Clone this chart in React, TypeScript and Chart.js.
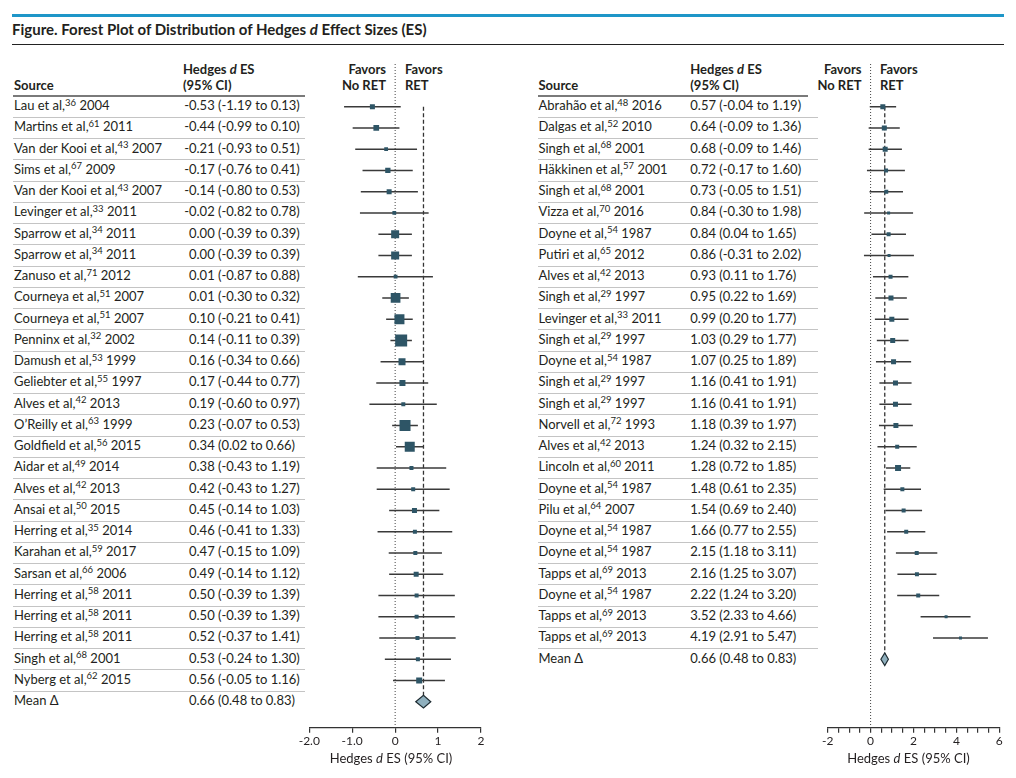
import React, { useEffect, useRef } from "react";
import { Chart, registerables } from "chart.js";

Chart.register(...registerables);

// ---------------- DATA ----------------
const leftAuthors = [
  "Lau et al", "Martins et al", "Van der Kooi et al", "Sims et al", "Van der Kooi et al",
  "Levinger et al", "Sparrow et al", "Sparrow et al", "Zanuso et al", "Courneya et al",
  "Courneya et al", "Penninx et al", "Damush et al", "Geliebter et al", "Alves et al",
  "O\u2019Reilly et al", "Goldfield et al", "Aidar et al", "Alves et al", "Ansai et al",
  "Herring et al", "Karahan et al", "Sarsan et al", "Herring et al", "Herring et al",
  "Herring et al", "Singh et al", "Nyberg et al",
];
const leftRefs = [36, 61, 43, 67, 43, 33, 34, 34, 71, 51, 51, 32, 53, 55, 42, 63, 56, 49, 42, 50, 35, 59, 66, 58, 58, 58, 68, 62];
const leftYears = [2004, 2011, 2007, 2009, 2007, 2011, 2011, 2011, 2012, 2007, 2007, 2002, 1999, 1997, 2013, 1999, 2015, 2014, 2013, 2015, 2014, 2017, 2006, 2011, 2011, 2011, 2001, 2015];
const leftES = [-0.53, -0.44, -0.21, -0.17, -0.14, -0.02, 0.0, 0.0, 0.01, 0.01, 0.1, 0.14, 0.16, 0.17, 0.19, 0.23, 0.34, 0.38, 0.42, 0.45, 0.46, 0.47, 0.49, 0.5, 0.5, 0.52, 0.53, 0.56];
const leftLo = [-1.19, -0.99, -0.93, -0.76, -0.8, -0.82, -0.39, -0.39, -0.87, -0.3, -0.21, -0.11, -0.34, -0.44, -0.6, -0.07, 0.02, -0.43, -0.43, -0.14, -0.41, -0.15, -0.14, -0.39, -0.39, -0.37, -0.24, -0.05];
const leftHi = [0.13, 0.1, 0.51, 0.41, 0.53, 0.78, 0.39, 0.39, 0.88, 0.32, 0.41, 0.39, 0.66, 0.77, 0.97, 0.53, 0.66, 1.19, 1.27, 1.03, 1.33, 1.09, 1.12, 1.39, 1.39, 1.41, 1.3, 1.16];
// relative study weights
const leftWeights = [5, 5.7, 3.8, 5.3, 5, 3.8, 8, 8, 3.8, 9.7, 10, 12, 7, 6, 4, 11, 10, 4, 4, 5, 4, 4, 5, 4, 4, 4, 4, 6];

const rightAuthors = [
  "Abrah\u00e3o et al", "Dalgas et al", "Singh et al", "H\u00e4kkinen et al", "Singh et al",
  "Vizza et al", "Doyne et al", "Putiri et al", "Alves et al", "Singh et al",
  "Levinger et al", "Singh et al", "Doyne et al", "Singh et al", "Singh et al",
  "Norvell et al", "Alves et al", "Lincoln et al", "Doyne et al", "Pilu et al",
  "Doyne et al", "Doyne et al", "Tapps et al", "Doyne et al", "Tapps et al", "Tapps et al",
];
const rightRefs = [48, 52, 68, 57, 68, 70, 54, 65, 42, 29, 33, 29, 54, 29, 29, 72, 42, 60, 54, 64, 54, 54, 69, 54, 69, 69];
const rightYears = [2016, 2010, 2001, 2001, 2001, 2016, 1987, 2012, 2013, 1997, 2011, 1997, 1987, 1997, 1997, 1993, 2013, 2011, 1987, 2007, 1987, 1987, 2013, 1987, 2013, 2013];
const rightES = [0.57, 0.64, 0.68, 0.72, 0.73, 0.84, 0.84, 0.86, 0.93, 0.95, 0.99, 1.03, 1.07, 1.16, 1.16, 1.18, 1.24, 1.28, 1.48, 1.54, 1.66, 2.15, 2.16, 2.22, 3.52, 4.19];
const rightLo = [-0.04, -0.09, -0.09, -0.17, -0.05, -0.3, 0.04, -0.31, 0.11, 0.22, 0.2, 0.29, 0.25, 0.41, 0.41, 0.39, 0.32, 0.72, 0.61, 0.69, 0.77, 1.18, 1.25, 1.24, 2.33, 2.91];
const rightHi = [1.19, 1.36, 1.46, 1.6, 1.51, 1.98, 1.65, 2.02, 1.76, 1.69, 1.77, 1.77, 1.89, 1.91, 1.91, 1.97, 2.15, 1.85, 2.35, 2.4, 2.55, 3.11, 3.07, 3.2, 4.66, 5.47];
const rightWeights = [5, 5, 5, 4, 4, 3, 4, 3, 4, 5, 5, 5, 5, 5, 5, 5, 4, 6, 4, 4, 4, 4, 4, 4, 3, 3];

const meanLabel = "Mean \u0394";
const meanES = 0.66;
const meanLo = 0.48;
const meanHi = 0.83;
const nullEffect = 0;

const leftTickValues = [-2, -1, 0, 1, 2];
const leftTickLabels = ["-2.0", "-1.0", "0", "1", "2"];
const rightTickValues = [-2, 0, 2, 4, 6];
const rightTickLabels = ["-2", "0", "2", "4", "6"];

// ---------------- LAYOUT / STYLE ----------------
const FONT = "Lato, 'Noto Sans', sans-serif";
const TXT = "#231f20";
const MARKER = "#2e5566";
const CI_COLOR = "#3a3a3a";
const DIAMOND_FILL = "#8fb0be";
const TEAL = "#1e96c8";
const ROW0 = 106.7;
const ROW_H = 21.25;
const PLOT_TOP = 64;
const AXIS_Y = 727.7;
const CANVAS_TOP = 50;
const CANVAS_H = 720;
const X_AXIS_H = 30;
const MARKER_PX = 1;
const DIAMOND_HALF = 6.3;
const FS = 13;

const rowY = (i: number) => ROW0 + ROW_H * i;
const fmt = (v: number) => v.toFixed(2);

Chart.defaults.font.family = FONT;

type TProps = {
  x: number;
  baseline: number;
  fs?: number;
  bold?: boolean;
  align?: "left" | "right" | "center";
  children: React.ReactNode;
};

function T({ x, baseline, fs = FS, bold = false, align = "left", children }: TProps) {
  const W = 400;
  const left = align === "left" ? x : align === "right" ? x - W : x - W / 2;
  return (
    <div
      style={{
        position: "absolute",
        left,
        width: W,
        top: baseline - 0.987 * fs,
        fontSize: fs,
        lineHeight: `${1.2 * fs}px`,
        fontWeight: bold ? 700 : 400,
        textAlign: align,
        whiteSpace: "nowrap",
        color: TXT,
      }}
    >
      {children}
    </div>
  );
}

const SUP: React.CSSProperties = { fontSize: 9.5, position: "relative", top: -4.5, verticalAlign: "baseline" };

function HLine({ x1, x2, y, h, color }: { x1: number; x2: number; y: number; h: number; color: string }) {
  return <div style={{ position: "absolute", left: x1, width: x2 - x1, top: y, height: h, background: color }} />;
}

type TableProps = {
  authors: string[];
  refs: number[];
  years: number[];
  es: number[];
  lo: number[];
  hi: number[];
  srcX: number;
  valX: number;
  hdrValX: number;
  lineX1: number;
  lineX2: number;
  hdrLineX2: number;
};

function ValueText({ text }: { text: string }) {
  if (text.startsWith("-")) {
    return (
      <span style={{ position: "relative" }}>
        <span style={{ position: "absolute", right: "100%" }}>-</span>
        {text.slice(1)}
      </span>
    );
  }
  return <span>{text}</span>;
}

function Table(p: TableProps) {
  const n = p.es.length;
  const rows = [];
  for (let i = 0; i < n; i++) {
    const b = rowY(i) + 4.3;
    rows.push(
      <T key={"s" + i} x={p.srcX} baseline={b}>
        {p.authors[i]},<span style={SUP}>{p.refs[i]}</span> {p.years[i]}
      </T>
    );
    rows.push(
      <T key={"v" + i} x={p.valX} baseline={b}>
        <ValueText text={`${fmt(p.es[i])} (${fmt(p.lo[i])} to ${fmt(p.hi[i])})`} />
      </T>
    );
    rows.push(<HLine key={"l" + i} x1={p.lineX1} x2={p.lineX2} y={rowY(i) + 10.2} h={1} color="#c4c4c4" />);
  }
  const bm = rowY(n) + 4.3;
  rows.push(
    <T key="ms" x={p.srcX} baseline={bm}>
      {meanLabel}
    </T>
  );
  rows.push(
    <T key="mv" x={p.valX} baseline={bm}>
      <ValueText text={`${fmt(meanES)} (${fmt(meanLo)} to ${fmt(meanHi)})`} />
    </T>
  );
  return (
    <>
      <T x={p.srcX} baseline={90.7} bold>
        Source
      </T>
      <T x={p.hdrValX} baseline={75} bold>
        Hedges <i>d</i> ES
      </T>
      <T x={p.hdrValX} baseline={90.7} bold>
        (95% CI)
      </T>
      <HLine x1={p.lineX1} x2={p.hdrLineX2} y={95} h={2} color="#7a7a7a" />
      {rows}
    </>
  );
}

type ChartProps = {
  es: number[];
  lo: number[];
  hi: number[];
  weights: number[];
  left: number;
  width: number;
  areaLeft: number;
  areaRight: number;
  xMin: number;
  xMax: number;
  step: number;
  tickValues: number[];
  tickLabels: string[];
};

function ForestChart(p: ChartProps) {
  const ref = useRef<HTMLCanvasElement>(null);
  useEffect(() => {
    if (!ref.current) return;
    const n = p.es.length;
    const yMin = -(ROW0 - PLOT_TOP) / ROW_H;
    const yMax = yMin + (AXIS_Y - PLOT_TOP) / ROW_H;
    const padTop = PLOT_TOP - CANVAS_TOP;
    const padBottom = CANVAS_TOP + CANVAS_H - AXIS_Y - X_AXIS_H;
    const diamondPlugin = {
      id: "meanDiamond",
      afterDatasetsDraw(chart: any) {
        const { ctx, scales } = chart;
        const x = scales.x;
        const y = scales.y;
        const cy = y.getPixelForValue(n);
        const xl = x.getPixelForValue(meanLo);
        const xc = x.getPixelForValue(meanES);
        const xr = x.getPixelForValue(meanHi);
        ctx.save();
        ctx.beginPath();
        ctx.moveTo(xl, cy);
        ctx.lineTo(xc, cy - DIAMOND_HALF);
        ctx.lineTo(xr, cy);
        ctx.lineTo(xc, cy + DIAMOND_HALF);
        ctx.closePath();
        ctx.fillStyle = DIAMOND_FILL;
        ctx.fill();
        ctx.lineWidth = 1.2;
        ctx.strokeStyle = "#1f2d33";
        ctx.stroke();
        ctx.restore();
      },
    };
    const ticks: number[] = [];
    for (let v = p.xMin; v <= p.xMax + 1e-9; v += p.step) ticks.push(Math.round(v * 1000) / 1000);
    const chart = new Chart(ref.current, {
      type: "scatter",
      data: {
        datasets: [
          {
            type: "scatter",
            label: "ES",
            data: p.es.map((v, i) => ({ x: v, y: i })),
            pointStyle: "rect",
            pointRadius: p.weights.map((w) => (w * MARKER_PX) / Math.SQRT2),
            pointHoverRadius: p.weights.map((w) => (w * MARKER_PX) / Math.SQRT2),
            pointBackgroundColor: MARKER,
            pointBorderWidth: 0,
            order: 0,
          } as any,
          {
            type: "bar",
            label: "CI",
            indexAxis: "y",
            data: p.es.map((_, i) => ({ y: i, x: [p.lo[i], p.hi[i]] })),
            barThickness: 1.4,
            backgroundColor: CI_COLOR,
            borderWidth: 0,
            inflateAmount: 0,
            order: 1,
          } as any,
          {
            type: "scatter",
            label: "null",
            showLine: true,
            data: [
              { x: nullEffect, y: yMin },
              { x: nullEffect, y: yMax },
            ],
            borderColor: "#444",
            borderWidth: 1,
            borderDash: [1, 2],
            pointRadius: 0,
            order: 2,
          } as any,
          {
            type: "scatter",
            label: "mean",
            showLine: true,
            data: [
              { x: meanES, y: 0 },
              { x: meanES, y: n },
            ],
            borderColor: "#333",
            borderWidth: 1.3,
            borderDash: [4, 2.5],
            pointRadius: 0,
            order: 2,
          } as any,
        ],
      },
      options: {
        animation: false,
        responsive: false,
        events: [],
        layout: {
          padding: {
            left: p.areaLeft - p.left,
            right: p.left + p.width - p.areaRight,
            top: padTop,
            bottom: padBottom,
          },
        },
        plugins: { legend: { display: false }, tooltip: { enabled: false } },
        scales: {
          x: {
            type: "linear",
            position: "bottom",
            min: p.xMin,
            max: p.xMax,
            offset: false,
            beginAtZero: false,
            afterFit(s: any) {
              s.height = X_AXIS_H;
            },
            afterBuildTicks(s: any) {
              s.ticks = ticks.map((v) => ({ value: v }));
            },
            ticks: {
              autoSkip: false,
              maxRotation: 0,
              padding: 1,
              color: TXT,
              font: { size: 12, family: FONT },
              callback(v: any) {
                const k = p.tickValues.indexOf(Number(v));
                return k >= 0 ? p.tickLabels[k] : "";
              },
            },
            grid: { drawOnChartArea: false, drawTicks: true, tickLength: 5, color: "#333", lineWidth: 1.2, offset: false },
            border: { display: true, color: "#333", width: 1.3 },
          } as any,
          y: {
            type: "linear",
            display: false,
            reverse: true,
            offset: false,
            min: yMin,
            max: yMax,
            grid: { offset: false },
          } as any,
        },
      },
      plugins: [diamondPlugin],
    });
    return () => chart.destroy();
  }, []);
  return (
    <canvas
      ref={ref}
      width={p.width}
      height={CANVAS_H}
      style={{ position: "absolute", left: p.left, top: CANVAS_TOP, width: p.width, height: CANVAS_H }}
    />
  );
}

export default function App() {
  return (
    <div
      style={{
        position: "absolute",
        left: 0,
        top: 0,
        width: 1016,
        height: 778,
        overflow: "hidden",
        background: "#fff",
        fontFamily: FONT,
        color: TXT,
      }}
    >
      <HLine x1={12} x2={1004} y={13.5} h={3} color={TEAL} />
      <T x={12} baseline={34.7} fs={15} bold>
        Figure. Forest Plot of Distribution of Hedges <i>d</i> Effect Sizes (ES)
      </T>
      <HLine x1={12} x2={1004} y={44.3} h={1} color="#222" />

      <Table
        authors={leftAuthors}
        refs={leftRefs}
        years={leftYears}
        es={leftES}
        lo={leftLo}
        hi={leftHi}
        srcX={14}
        valX={189}
        hdrValX={183}
        lineX1={13}
        lineX2={305}
        hdrLineX2={305}
      />
      <Table
        authors={rightAuthors}
        refs={rightRefs}
        years={rightYears}
        es={rightES}
        lo={rightLo}
        hi={rightHi}
        srcX={538.5}
        valX={690.3}
        hdrValX={690.3}
        lineX1={538}
        lineX2={818}
        hdrLineX2={808}
      />

      <T x={386} baseline={75} bold align="right">Favors</T>
      <T x={386} baseline={90.7} bold align="right">No RET</T>
      <T x={405} baseline={75} bold>Favors</T>
      <T x={405} baseline={90.7} bold>RET</T>

      <T x={861.5} baseline={75} bold align="right">Favors</T>
      <T x={861.5} baseline={90.7} bold align="right">No RET</T>
      <T x={880} baseline={75} bold>Favors</T>
      <T x={880} baseline={90.7} bold>RET</T>

      <ForestChart
        es={leftES}
        lo={leftLo}
        hi={leftHi}
        weights={leftWeights}
        left={290}
        width={210}
        areaLeft={309.3}
        areaRight={481}
        xMin={-2}
        xMax={2}
        step={1}
        tickValues={leftTickValues}
        tickLabels={leftTickLabels}
      />
      <ForestChart
        es={rightES}
        lo={rightLo}
        hi={rightHi}
        weights={rightWeights}
        left={808}
        width={208}
        areaLeft={827.7}
        areaRight={999.3}
        xMin={-2}
        xMax={6}
        step={0.5}
        tickValues={rightTickValues}
        tickLabels={rightTickLabels}
      />

      <T x={391} baseline={763.7} align="center">
        Hedges <i>d</i> ES (95% CI)
      </T>
      <T x={908.5} baseline={763.7} align="center">
        Hedges <i>d</i> ES (95% CI)
      </T>
    </div>
  );
}
